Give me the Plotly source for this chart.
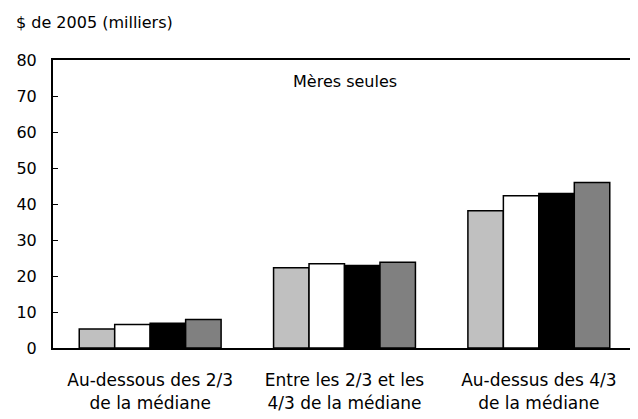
import plotly.graph_objects as go

categories = ["Au-dessous des 2/3<br>de la médiane",
              "Entre les 2/3 et les<br>4/3 de la médiane",
              "Au-dessus des 4/3<br>de la médiane"]
series_names = ["Série 1", "Série 2", "Série 3", "Série 4"]
series_values = [
    [5.3, 22.3, 38.1],
    [6.5, 23.4, 42.3],
    [6.9, 22.9, 42.9],
    [7.9, 23.8, 46.0],
]
colors = ["#C0C0C0", "#FFFFFF", "#000000", "#808080"]
y_ticks = [0, 10, 20, 30, 40, 50, 60, 70, 80]

font_family = "DejaVu Sans, sans-serif"

fig = go.Figure()
for name, vals, col in zip(series_names, series_values, colors):
    fig.add_trace(go.Bar(x=categories, y=vals, name=name,
                         marker=dict(color=col, line=dict(color="#000000", width=1.5))))

fig.update_layout(
    width=638, height=419,
    margin=dict(l=45, r=10, t=52, b=79),
    paper_bgcolor="white", plot_bgcolor="white",
    barmode="group", bargap=0.27, bargroupgap=0,
    showlegend=False,
    font=dict(family=font_family, size=15, color="#000000"),
    annotations=[
        dict(text="$ de 2005 (milliers)", xref="paper", yref="paper",
             x=-39/583, y=1 + 38/288, xanchor="left", yanchor="middle",
             showarrow=False, font=dict(size=16)),
        dict(text="Mères seules", xref="paper", yref="paper",
             x=0.5, y=1 - 22/288, xanchor="center", yanchor="middle",
             showarrow=False, font=dict(size=16)),
    ],
)
fig.update_xaxes(showline=True, linecolor="black", linewidth=2, mirror=True,
                 ticks="", showgrid=False, tickfont=dict(size=17),
                 automargin=False, ticklabelstandoff=16)
fig.update_yaxes(range=[0, 80], tickvals=y_ticks, showline=True, linecolor="black",
                 linewidth=2, mirror=True, ticks="inside", ticklen=5, tickcolor="black",
                 showgrid=False, zeroline=False, tickfont=dict(size=16),
                 automargin=False, ticklabelstandoff=11)

fig.write_html("out.html")
